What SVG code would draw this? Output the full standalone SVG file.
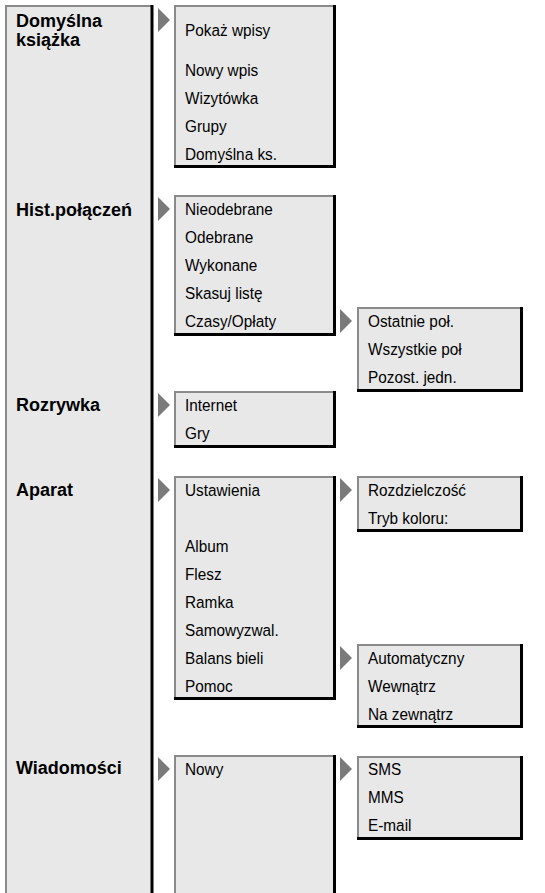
<svg xmlns="http://www.w3.org/2000/svg" width="545" height="893" viewBox="0 0 545 893">
<style>
.bx{fill:#e8e8e8;stroke:none}
.lt{fill:none;stroke:#8a8a8a;stroke-width:2}
.dk{fill:none;stroke:#000;stroke-width:3}
.h{font-family:"Liberation Sans",Arial,sans-serif;font-weight:bold;font-size:18px;fill:#000}
.t{font-family:"Liberation Sans",Arial,sans-serif;font-size:16.5px;fill:#000}
.ar{fill:#7a7a7a}
</style>
<rect width="545" height="893" fill="#fff"/>
<g id="menu-main">
<rect class="bx" x="5" y="5" width="147" height="890"/>
<path class="lt" d="M6,895 V6 H151"/>
<path class="dk" d="M152,5 V895"/>
<text class="h" x="16" y="27">Domyślna</text>
<text class="h" x="16" y="46">książka</text>
<text class="h" x="16" y="216">Hist.połączeń</text>
<text class="h" x="16" y="411">Rozrywka</text>
<text class="h" x="16" y="496">Aparat</text>
<text class="h" x="16" y="774">Wiadomości</text>
</g>
<g id="box-ksiazka">
<rect class="bx" x="174" y="5" width="161" height="162"/>
<path class="lt" d="M175,167 V6 H334"/>
<path class="dk" d="M334.5,5 V166.5 H174"/>
<text class="t" transform="translate(185,36) scale(0.93,1)">Pokaż wpisy</text>
<text class="t" transform="translate(185,76) scale(0.93,1)">Nowy wpis</text>
<text class="t" transform="translate(185,104) scale(0.93,1)">Wizytówka</text>
<text class="t" transform="translate(185,132) scale(0.93,1)">Grupy</text>
<text class="t" transform="translate(185,160) scale(0.93,1)">Domyślna ks.</text>
</g>
<g id="box-hist">
<rect class="bx" x="174" y="195" width="161" height="140"/>
<path class="lt" d="M175,335 V196 H334"/>
<path class="dk" d="M334.5,195 V334.5 H174"/>
<text class="t" transform="translate(185,215) scale(0.93,1)">Nieodebrane</text>
<text class="t" transform="translate(185,243) scale(0.93,1)">Odebrane</text>
<text class="t" transform="translate(185,271) scale(0.93,1)">Wykonane</text>
<text class="t" transform="translate(185,299) scale(0.93,1)">Skasuj listę</text>
<text class="t" transform="translate(185,327) scale(0.93,1)">Czasy/Opłaty</text>
</g>
<g id="box-czasy">
<rect class="bx" x="357" y="307" width="165" height="85"/>
<path class="lt" d="M358,392 V308 H521"/>
<path class="dk" d="M521.5,307 V390.5 H357"/>
<text class="t" transform="translate(368,327) scale(0.93,1)">Ostatnie poł.</text>
<text class="t" transform="translate(368,355) scale(0.93,1)">Wszystkie poł</text>
<text class="t" transform="translate(368,383) scale(0.93,1)">Pozost. jedn.</text>
</g>
<g id="box-rozrywka">
<rect class="bx" x="174" y="391" width="161" height="56"/>
<path class="lt" d="M175,447 V392 H334"/>
<path class="dk" d="M334.5,391 V446.5 H174"/>
<text class="t" transform="translate(185,411) scale(0.93,1)">Internet</text>
<text class="t" transform="translate(185,439) scale(0.93,1)">Gry</text>
</g>
<g id="box-aparat">
<rect class="bx" x="174" y="476" width="161" height="224"/>
<path class="lt" d="M175,700 V477 H334"/>
<path class="dk" d="M334.5,476 V698.5 H174"/>
<text class="t" transform="translate(185,496) scale(0.93,1)">Ustawienia</text>
<text class="t" transform="translate(185,552) scale(0.93,1)">Album</text>
<text class="t" transform="translate(185,580) scale(0.93,1)">Flesz</text>
<text class="t" transform="translate(185,608) scale(0.93,1)">Ramka</text>
<text class="t" transform="translate(185,636) scale(0.93,1)">Samowyzwal.</text>
<text class="t" transform="translate(185,664) scale(0.93,1)">Balans bieli</text>
<text class="t" transform="translate(185,692) scale(0.93,1)">Pomoc</text>
</g>
<g id="box-ustawienia">
<rect class="bx" x="357" y="476" width="165" height="56"/>
<path class="lt" d="M358,532 V477 H521"/>
<path class="dk" d="M521.5,476 V530.5 H357"/>
<text class="t" transform="translate(368,496) scale(0.93,1)">Rozdzielczość</text>
<text class="t" transform="translate(368,524) scale(0.93,1)">Tryb koloru:</text>
</g>
<g id="box-balans">
<rect class="bx" x="357" y="644" width="165" height="84"/>
<path class="lt" d="M358,728 V645 H521"/>
<path class="dk" d="M521.5,644 V726.5 H357"/>
<text class="t" transform="translate(368,664) scale(0.93,1)">Automatyczny</text>
<text class="t" transform="translate(368,692) scale(0.93,1)">Wewnątrz</text>
<text class="t" transform="translate(368,720) scale(0.93,1)">Na zewnątrz</text>
</g>
<g id="box-wiadomosci">
<rect class="bx" x="174" y="755" width="161" height="140"/>
<path class="lt" d="M175,895 V756 H334"/>
<path class="dk" d="M334.5,755 V895"/>
<text class="t" transform="translate(185,775) scale(0.93,1)">Nowy</text>
</g>
<g id="box-nowy">
<rect class="bx" x="357" y="756" width="165" height="84"/>
<path class="lt" d="M358,840 V757 H521"/>
<path class="dk" d="M521.5,756 V838.5 H357"/>
<text class="t" transform="translate(368,775) scale(0.93,1)">SMS</text>
<text class="t" transform="translate(368,803) scale(0.93,1)">MMS</text>
<text class="t" transform="translate(368,831) scale(0.93,1)">E-mail</text>
</g>
<g id="connectors">
<polygon class="ar" points="158,8 170,20 158,32"/>
<polygon class="ar" points="158,197 170,209 158,221"/>
<polygon class="ar" points="158,393 170,405 158,417"/>
<polygon class="ar" points="158,478 170,490 158,502"/>
<polygon class="ar" points="158,757 170,769 158,781"/>
<polygon class="ar" points="340,309 352,321 340,333"/>
<polygon class="ar" points="340,478 352,490 340,502"/>
<polygon class="ar" points="340,646 352,658 340,670"/>
<polygon class="ar" points="340,757 352,769 340,781"/>
</g>
</svg>
